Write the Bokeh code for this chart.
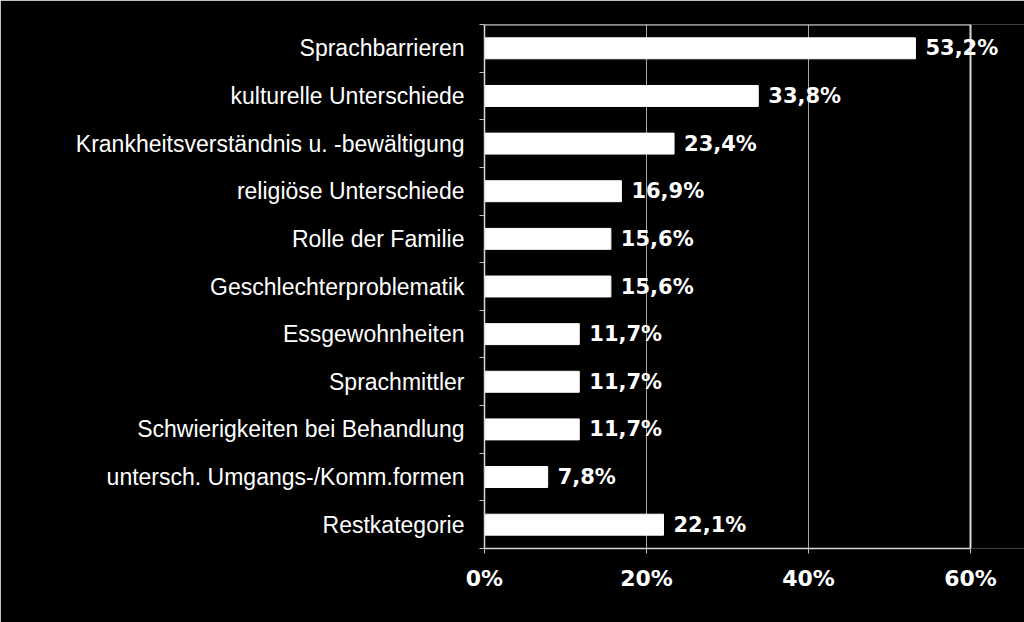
from bokeh.plotting import figure
from bokeh.models import ColumnDataSource, LabelSet, FixedTicker, Range1d
from bokeh.core.properties import value
from bokeh.embed import file_html
from bokeh.resources import INLINE

categories = [
    "Sprachbarrieren",
    "kulturelle Unterschiede",
    "Krankheitsverständnis u. -bewältigung",
    "religiöse Unterschiede",
    "Rolle der Familie",
    "Geschlechterproblematik",
    "Essgewohnheiten",
    "Sprachmittler",
    "Schwierigkeiten bei Behandlung",
    "untersch. Umgangs-/Komm.formen",
    "Restkategorie",
]
values = [53.2, 33.8, 23.4, 16.9, 15.6, 15.6, 11.7, 11.7, 11.7, 7.8, 22.1]
x_ticks = [0, 20, 40, 60]
x_tick_labels = ["0%", "20%", "40%", "60%"]
x_max = 60

n = len(categories)
ypos = [n - i - 0.5 for i in range(n)]
labels = [f"{v:.1f}".replace(".", ",") + "%" for v in values]

src = ColumnDataSource(dict(y=ypos, v=values, lab=labels, cat=categories))

# frame extends past 60% so value labels are not clipped
frame_px = 1024 - 484
axis_px = 486
p = figure(width=1024, height=622, output_backend="svg", toolbar_location=None,
           x_range=Range1d(0, x_max * frame_px / axis_px), y_range=Range1d(0, n),
           min_border_left=484, min_border_right=0, min_border_top=24, min_border_bottom=74)
p.background_fill_color = "black"
p.border_fill_color = "black"
p.outline_line_color = None

p.hbar(y="y", right="v", left=0, height=0.44, source=src,
       fill_color="white", line_color="white")

# plot-area border (top and right)
p.segment(x0=[0, x_max], y0=[n, 0], x1=[x_max, x_max], y1=[n, n],
          line_color="#d8d8d8", line_width=2)

p.add_layout(LabelSet(x="v", y="y", text="lab", source=src, x_offset=10,
                      text_baseline="middle", text_align="left",
                      text_color="white", text_font=value("DejaVu Sans"),
                      text_font_style="bold", text_font_size="21px"))

# y axis: labels at centers, ticks at boundaries (minor)
p.yaxis.ticker = FixedTicker(ticks=ypos, minor_ticks=list(range(n + 1)))
p.yaxis.major_label_overrides = {y: c for y, c in zip(ypos, categories)}
p.yaxis.major_tick_line_color = None
p.yaxis.major_tick_out = 0
p.yaxis.major_tick_in = 0
p.yaxis.minor_tick_out = 5
p.yaxis.minor_tick_in = 0
p.yaxis.minor_tick_line_color = "#bfbfbf"
p.yaxis.axis_line_color = "#d8d8d8"
p.yaxis.axis_line_width = 1.5
p.yaxis.major_label_standoff = 15
p.yaxis.major_label_text_color = "white"
p.yaxis.major_label_text_font = "Liberation Sans"
p.yaxis.major_label_text_font_size = "23px"

p.xaxis.ticker = FixedTicker(ticks=x_ticks, minor_ticks=[])
p.xaxis.bounds = (0, x_max)
p.xaxis.major_label_overrides = {t: l for t, l in zip(x_ticks, x_tick_labels)}
p.xaxis.major_tick_out = 5
p.xaxis.major_tick_in = 0
p.xaxis.major_tick_line_color = "#bfbfbf"
p.xaxis.axis_line_color = "#d8d8d8"
p.xaxis.axis_line_width = 1.5
p.xaxis.major_label_standoff = 12
p.xaxis.major_label_text_color = "white"
p.xaxis.major_label_text_font = "DejaVu Sans"
p.xaxis.major_label_text_font_style = "bold"
p.xaxis.major_label_text_font_size = "22px"

p.ygrid.grid_line_color = None
p.xgrid.grid_line_color = "#a6a6a6"
p.xgrid.grid_line_width = 1

open("out.html", "w").write(file_html(p, INLINE))
